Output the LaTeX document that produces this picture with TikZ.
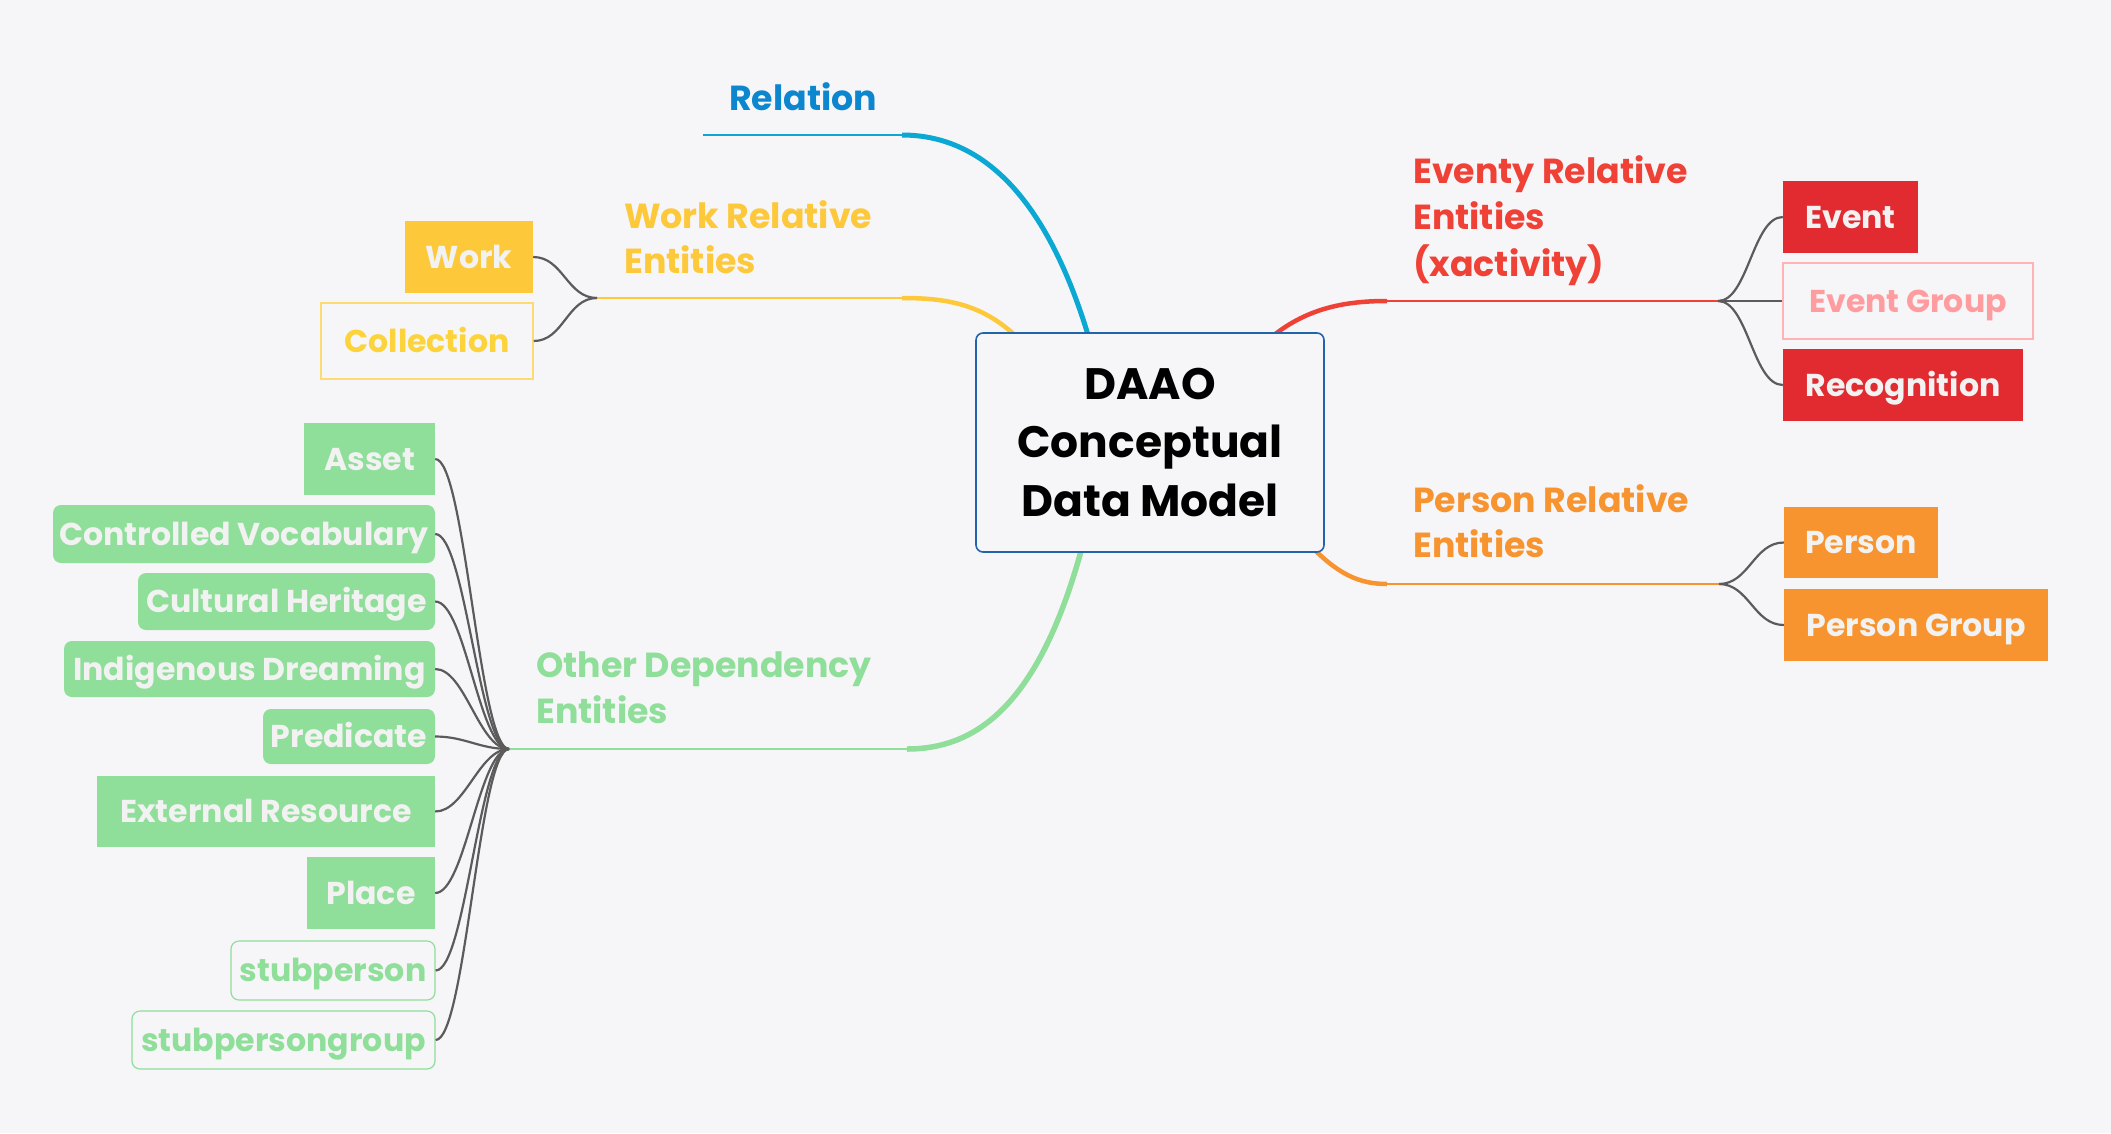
\documentclass[tikz,border=0pt]{standalone}
\usepackage{fontspec}
\setmainfont{Poppins}
\usetikzlibrary{calc}
\definecolor{bg}{HTML}{F6F6F8}
\definecolor{reltxt}{HTML}{0C86CE}
\definecolor{relline}{HTML}{0AA8D3}
\definecolor{yel}{HTML}{FDC83A}
\definecolor{yell}{HTML}{FCDB70}
\definecolor{yelt}{HTML}{FDD33C}
\definecolor{redt}{HTML}{EF4136}
\definecolor{redbox}{HTML}{E22B31}
\definecolor{pinkb}{HTML}{FFB3B5}
\definecolor{pinkt}{HTML}{FF9C9F}
\definecolor{ora}{HTML}{F7942F}
\definecolor{grn}{HTML}{8FDE99}
\definecolor{connc}{HTML}{5B5B5B}
\definecolor{leaft}{HTML}{F2F2F2}
\definecolor{cbox}{HTML}{2065AB}
\newcommand\leaffont{\fontsize{31.6}{38}\selectfont\bfseries}
\newcommand\brfont{\fontsize{34.8}{46}\selectfont\bfseries}
\newcommand\twol[3]{\vtop{\baselineskip=#3pt\hbox{#1}\hbox{#2}}}
\newcommand\threel[4]{\vtop{\baselineskip=#4pt\hbox{#1}\hbox{#2}\hbox{#3}}}
\newcommand\lconn[2]{\draw[conn] (#1) .. controls ($(#1)+(30,0)$) and ($(#2)+(-30,0)$) .. (#2);}
\begin{document}
\begin{tikzpicture}[x=1pt,y=-1pt,
  sz/.style 2 args={minimum width=#1pt,minimum height=#2pt},
  leaf/.style={font=\leaffont,text=leaft,inner sep=0pt,anchor=center,text height=22pt,text depth=0pt},
  gbox/.style={leaf,fill=grn},
  gboxr/.style={gbox,rounded corners=8pt},
  gout/.style={leaf,draw=grn,line width=1.2pt,rounded corners=8pt,text=grn},
  ybox/.style={leaf,fill=yel},
  yout/.style={leaf,draw=yell,line width=1.5pt,text=yelt},
  rbox/.style={leaf,fill=redbox},
  rout/.style={leaf,draw=pinkb,line width=1.5pt,text=pinkt},
  obox/.style={leaf,fill=ora},
  brlabel/.style={font=\brfont,inner sep=0pt,anchor=base west},
  conn/.style={draw=connc,line width=2.2pt},
  thick br/.style={line width=5pt},
  thin br/.style={line width=2.6pt}]
\useasboundingbox (0,0) rectangle (2111,1133);
\fill[bg] (0,0) rectangle (2111,1133);

% branch coordinates
\coordinate (relS) at (1091,345);
\coordinate (relH) at (902,135);
\coordinate (relE) at (703,135);
\coordinate (wS) at (1021,341);
\coordinate (wH) at (902,298);
\coordinate (wfork) at (597,298);
\coordinate (eS) at (1268,340);
\coordinate (eH) at (1387,301);
\coordinate (efork) at (1718,301);
\coordinate (pS) at (1308,543);
\coordinate (pH) at (1387,584);
\coordinate (pfork) at (1719,584);
\coordinate (gS) at (1084,540);
\coordinate (gH) at (907,749);
\coordinate (gfork) at (509,749);

% branches
\draw[relline,thick br] (relS) .. controls (1052,210) and (990,135) .. (relH);
\draw[relline,thin br] (relH) -- (relE);
\draw[yel,line width=4.5pt] (wS) .. controls (985,305) and (950,298) .. (wH);
\draw[yel,thin br] (wH) -- (wfork);
\draw[redt,line width=4.5pt] (eS) .. controls (1305,308) and (1345,301) .. (eH);
\draw[redt,line width=2.4pt] (eH) -- (efork);
\draw[ora,line width=4.5pt] (pS) .. controls (1338,575) and (1360,584) .. (pH);
\draw[ora,line width=2.4pt] (pH) -- (pfork);
\draw[grn,line width=5.5pt] (gS) .. controls (1042,700) and (980,749) .. (gH);
\draw[grn,thin br] (gH) -- (gfork);

% center
\node[draw=cbox,line width=1.6pt,fill=bg,rounded corners=7pt,sz={348}{219},
  align=center,font=\fontsize{44}{58.5}\selectfont\bfseries,inner sep=0pt]
  (center) at (1150,442.5) {DAAO\\Conceptual\\ Data Model};

% branch labels
\node[brlabel,text=reltxt] (rel) at (729,110) {Relation};
\node[brlabel,text=yel] (wre) at (624,228) {\twol{Work Relative}{Entities}{45}};
\node[brlabel,text=redt] (ere) at (1413,183) {\threel{Eventy Relative}{Entities}{(xactivity)}{46.5}};
\node[brlabel,text=ora] (pre) at (1413,512) {\twol{Person Relative}{Entities}{45}};
\node[brlabel,text=grn] (ode) at (536,677) {\twol{Other Dependency}{Entities}{46}};

% work leaves
\node[ybox,sz={128}{72}] (work) at (469,257) {Work};
\node[yout,sz={212}{76}] (coll) at (427,341) {Collection};

% event leaves
\node[rbox,sz={135}{72}] (event) at (1850.5,217) {Event};
\node[rout,sz={250}{76}] (egroup) at (1908,301) {Event Group};
\node[rbox,sz={240}{72}] (recog) at (1903,385) {Recognition};

% person leaves
\node[obox,sz={154}{71}] (person) at (1861,542.5) {Person};
\node[obox,sz={264}{72}] (pgroup) at (1916,625) {Person Group};

% other leaves
\node[gbox,sz={131}{72}] (asset) at (369.5,459) {Asset};
\node[gboxr,sz={382}{58}] (cvoc) at (244,534) {Controlled Vocabulary};
\node[gboxr,sz={297}{57}] (cher) at (286.5,601.5) {Cultural Heritage};
\node[gboxr,sz={371}{56}] (indg) at (249.5,669) {Indigenous Dreaming};
\node[gboxr,sz={172}{55}] (pred) at (349,736.5) {Predicate};
\node[gbox,sz={338}{71}] (extr) at (266,811.5) {External Resource};
\node[gbox,sz={128}{72}] (place) at (371,893) {Place};
\node[gout,sz={204}{59}] (stubp) at (333,970.5) {stubperson};
\node[gout,sz={303}{58}] (stubpg) at (283.5,1040) {stubpersongroup};

% leaf connectors
\lconn{work.east}{wfork}
\lconn{coll.east}{wfork}
\lconn{efork}{event.west}
\lconn{efork}{egroup.west}
\lconn{efork}{recog.west}
\lconn{pfork}{person.west}
\lconn{pfork}{pgroup.west}
\lconn{asset.east}{gfork}
\lconn{cvoc.east}{gfork}
\lconn{cher.east}{gfork}
\lconn{indg.east}{gfork}
\lconn{pred.east}{gfork}
\lconn{extr.east}{gfork}
\lconn{place.east}{gfork}
\lconn{stubp.east}{gfork}
\lconn{stubpg.east}{gfork}
\end{tikzpicture}
\end{document}
